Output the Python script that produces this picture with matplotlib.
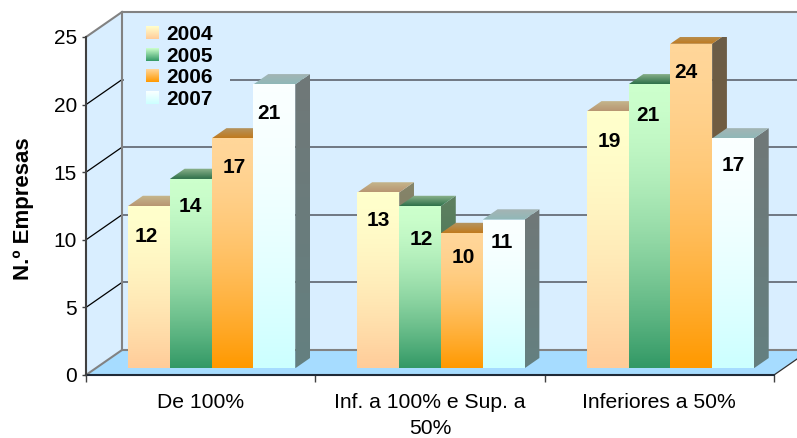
import numpy as np
import matplotlib
matplotlib.use('Agg')
import matplotlib.pyplot as plt
from matplotlib.colors import LinearSegmentedColormap
from matplotlib.patches import Polygon

plt.rcParams['font.family'] = ['Liberation Sans', 'DejaVu Sans']

categories = ['De 100%', 'Inf. a 100% e Sup. a\n50%', 'Inferiores a 50%']
years = ['2004', '2005', '2006', '2007']
v2004 = [12, 13, 19]
v2005 = [14, 12, 21]
v2006 = [17, 10, 24]
v2007 = [21, 11, 17]
series = [v2004, v2005, v2006, v2007]

# label nudges in pixels, by group then series
label_dx = [[-2.5, -0.5, 1.5, -5.5], [-0.5, 1.5, 1.5, -1.5], [1.5, -1.5, -5.5, 0.5]]
label_dy = [[28, 26, 27, 27], [26, 31, 22, 21], [28, 29, 27, 25]]

front_cols = [('#FFFFCC', '#FFCC99'), ('#CCFFCC', '#339966'),
              ('#FFD699', '#FF9900'), ('#FAFFFF', '#CCFFFF')]
top_cols = [('#C6B88E', '#B89672'), ('#8FB58F', '#2E7049'),
            ('#B39665', '#C07A1E'), ('#A6B4B4', '#8FB8B8')]
side_cols = [('#85856A', '#7F6650'), ('#5F8060', '#2F6F4F'),
             ('#6B5C48', '#7F5F30'), ('#707878', '#648080')]

W, H = 797, 438
PX_X = 688/3.   # pixels per category
PX_Y = 338/25.  # pixels per unit
DX = 36/PX_X    # full depth of the box in data units
DY = 25/PX_Y
BAR_W = 41.8/PX_X
BAR_D0, BAR_D1 = 0.27, 0.68

fig = plt.figure(figsize=(W/100, H/100), dpi=100)
ax = fig.add_axes([86/W, 1-375/H, 688/W, 338/H])
ax.set_xlim(0, 3)
ax.set_ylim(0, 25)
ax.patch.set_visible(False)
for s in ax.spines.values():
    s.set_visible(False)


def proj(x, y, d):
    return x + DX*d, y + DY*d


def px2x(px):
    return (px - 86)/PX_X


def px2y(py):
    return (375 - py)/PX_Y


def grad_poly(pts, c_top, c_bot, z, power=1.0):
    # vertical gradient clipped to a polygon
    pts = np.array(pts)
    cmap = LinearSegmentedColormap.from_list('g', [c_top, c_bot])
    im = ax.imshow(np.linspace(0, 1, 128).reshape(-1, 1)**power, cmap=cmap, aspect='auto', vmin=0, vmax=1,
                   extent=[pts[:, 0].min(), pts[:, 0].max(), pts[:, 1].min(), pts[:, 1].max()],
                   zorder=z, interpolation='bilinear')
    poly = Polygon(pts, transform=ax.transData, fc='none', ec='none', clip_on=False)
    ax.add_patch(poly)
    im.set_clip_path(poly)
    return im


wall = '#D9EEFF'
floor = '#A6DCFF'
grey = '#828282'
grid = '#686E7A'

# walls and floor
ax.add_patch(Polygon([proj(0, 0, 1), proj(0, 25, 1), (3+DX, 25+DY), (3+DX, DY)], fc=wall, ec='none',
                     zorder=1, clip_on=False))
ax.add_patch(Polygon([proj(0, 0, 0), proj(0, 25, 0), proj(0, 25, 1), proj(0, 0, 1)], fc=wall, ec='none',
                     zorder=1, clip_on=False))
ax.add_patch(Polygon([proj(0, 0, 0), proj(3, 0, 0), proj(3, 0, 1), proj(0, 0, 1)], fc=floor, ec='none',
                     zorder=1, clip_on=False))

# gridlines on the back wall and the side wall
for v in [0, 5, 10, 15, 20, 25]:
    ax.plot([DX, 3+DX], [v+DY, v+DY], color=grey if v in (0, 25) else grid, lw=1.5 if v in (0, 25) else 1.3,
            zorder=2, clip_on=False, solid_capstyle='butt')
    c = grey if v in (0, 25) else 'black'
    ax.plot([0, DX], [v, v+DY], color=c, lw=1.5 if v in (0, 25) else 0.9, zorder=2, clip_on=False)
ax.plot([DX, DX], [DY, 25+DY], color=grey, lw=1.5, zorder=2, clip_on=False)
ax.plot([3, 3+DX], [0, DY], color='#303030', lw=0.9, zorder=2, clip_on=False)

# legend background hides the grid behind it
ax.add_patch(Polygon([(px2x(124), px2y(110)), (px2x(230), px2y(110)), (px2x(230), px2y(14)), (px2x(124), px2y(14))],
                     fc=wall, ec='none', zorder=3, clip_on=False))

# bars
for i in range(3):
    x0 = i + 0.5 - 2*BAR_W + 1.3/PX_X
    for j, vals in enumerate(series):
        v = vals[i]
        xa = x0 + j*BAR_W
        xb = xa + BAR_W
        z = 10 + i*10 + j
        fa = proj(xa, 0, BAR_D0)
        fb = proj(xb, 0, BAR_D0)
        ta = proj(xa, v, BAR_D0)
        tb = proj(xb, v, BAR_D0)
        bb = proj(xb, 0, BAR_D1)
        tbb = proj(xb, v, BAR_D1)
        tab = proj(xa, v, BAR_D1)
        grad_poly([fb, tb, tbb, bb], side_cols[j][0], side_cols[j][1], z)
        grad_poly([ta, tb, tbb, tab], top_cols[j][0], top_cols[j][1], z)
        grad_poly([fa, fb, tb, ta], front_cols[j][0], front_cols[j][1], z + 0.5, power=1.6)
        ax.text(fa[0] + BAR_W/2 + label_dx[i][j]/PX_X, ta[1] - label_dy[i][j]/PX_Y, str(v),
                ha='center', va='center_baseline', fontsize=15, fontweight='bold', color='black', zorder=60)

# legend swatches, the first one sits above the axes box so no clipping here
for j, y in enumerate(years):
    yc = 32.5 + j*21.7
    xa, xb = px2x(146), px2x(159)
    ya, yb = px2y(yc + 6.5), px2y(yc - 6.5)
    im = grad_poly([(xa, ya), (xb, ya), (xb, yb), (xa, yb)], front_cols[j][0], front_cols[j][1], 5)
    im.set_clip_on(False)
    ax.text(px2x(166.5), px2y(yc), y, ha='left', va='center_baseline', fontsize=15, fontweight='bold', zorder=6)

ax.set_xlim(0, 3)
ax.set_ylim(0, 25)

# front axes
ax.plot([0, 3], [0, 0], color='#1F2A38', lw=1.5, zorder=70, clip_on=False)
ax.plot([0, 0], [0, 25], color='#404040', lw=1.5, zorder=70, clip_on=False)
ax.set_xticks([0, 1, 2, 3])
ax.set_xticklabels([])
ax.set_yticks([0, 5, 10, 15, 20, 25])
ax.tick_params(axis='y', length=3, width=1, color='#404040', labelsize=15, pad=3.5)
ax.tick_params(axis='x', length=5, width=1, color='#404040')
for i, c in enumerate(categories):
    ax.text(i + 0.5, px2y(393), c, ha='center', va='top', fontsize=15.2, linespacing=1.48)
ax.set_ylabel('N.º Empresas', fontsize=16, fontweight='bold')
ax.yaxis.set_label_coords(-(86-34)/688., (375-209)/338.)

fig.savefig('out.png', dpi=100)
